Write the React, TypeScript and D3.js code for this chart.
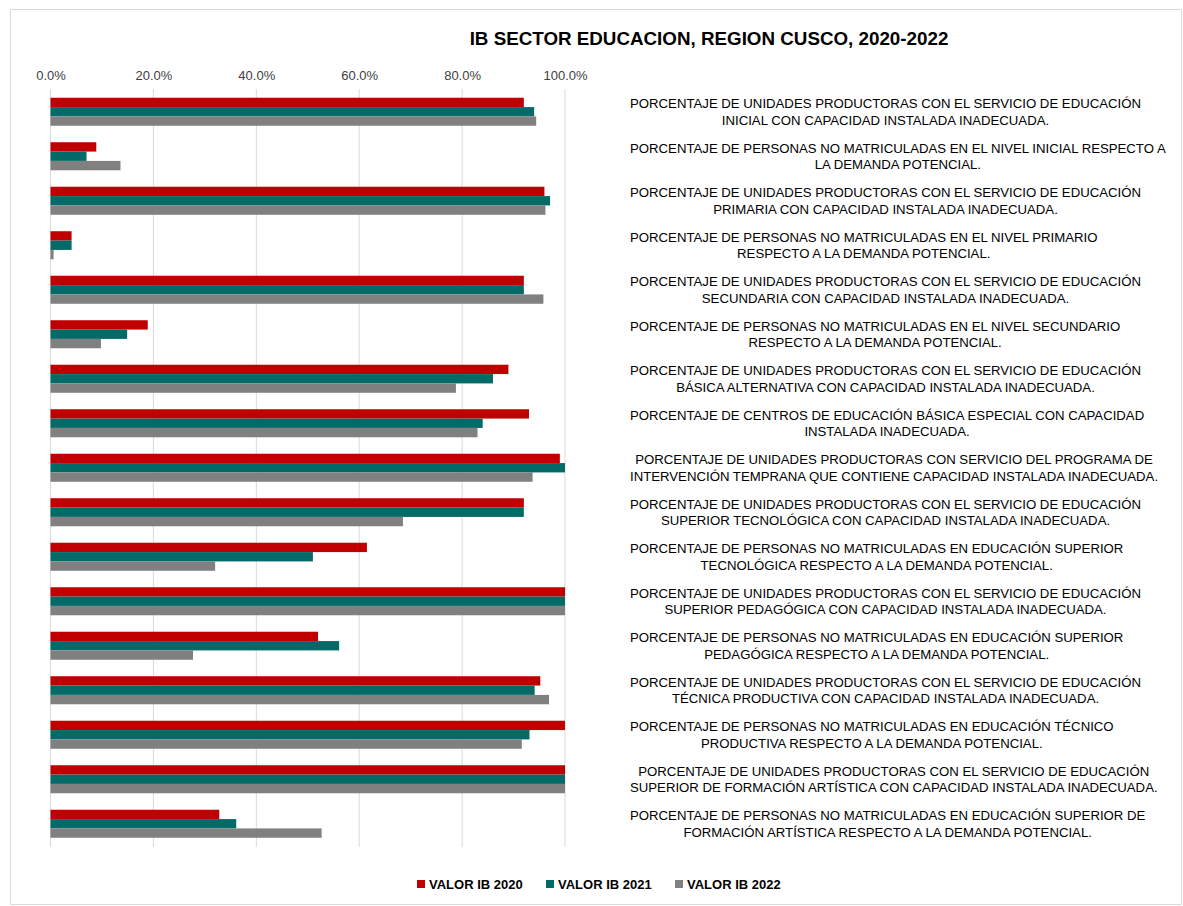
import React from "react";
import * as d3 from "d3";

const categories: string[][] = [
  ["PORCENTAJE DE UNIDADES PRODUCTORAS CON EL SERVICIO DE EDUCACIÓN", "INICIAL CON CAPACIDAD INSTALADA INADECUADA."],
  ["PORCENTAJE DE PERSONAS NO MATRICULADAS EN EL NIVEL INICIAL RESPECTO A", "LA DEMANDA POTENCIAL."],
  ["PORCENTAJE DE UNIDADES PRODUCTORAS CON EL SERVICIO DE EDUCACIÓN", "PRIMARIA CON CAPACIDAD INSTALADA INADECUADA."],
  ["PORCENTAJE DE PERSONAS NO MATRICULADAS EN EL NIVEL PRIMARIO", "RESPECTO A LA DEMANDA POTENCIAL."],
  ["PORCENTAJE DE UNIDADES PRODUCTORAS CON EL SERVICIO DE EDUCACIÓN", "SECUNDARIA CON CAPACIDAD INSTALADA INADECUADA."],
  ["PORCENTAJE DE PERSONAS NO MATRICULADAS EN EL NIVEL SECUNDARIO", "RESPECTO A LA DEMANDA POTENCIAL."],
  ["PORCENTAJE DE UNIDADES PRODUCTORAS CON EL SERVICIO DE EDUCACIÓN", "BÁSICA ALTERNATIVA CON CAPACIDAD INSTALADA INADECUADA."],
  ["PORCENTAJE DE CENTROS DE EDUCACIÓN BÁSICA ESPECIAL CON CAPACIDAD", "INSTALADA INADECUADA."],
  ["PORCENTAJE DE UNIDADES PRODUCTORAS CON SERVICIO DEL PROGRAMA DE", "INTERVENCIÓN TEMPRANA QUE CONTIENE CAPACIDAD INSTALADA INADECUADA."],
  ["PORCENTAJE DE UNIDADES PRODUCTORAS CON EL SERVICIO DE EDUCACIÓN", "SUPERIOR TECNOLÓGICA CON CAPACIDAD INSTALADA INADECUADA."],
  ["PORCENTAJE DE PERSONAS NO MATRICULADAS EN EDUCACIÓN SUPERIOR", "TECNOLÓGICA RESPECTO A LA DEMANDA POTENCIAL."],
  ["PORCENTAJE DE UNIDADES PRODUCTORAS CON EL SERVICIO DE EDUCACIÓN", "SUPERIOR PEDAGÓGICA CON CAPACIDAD INSTALADA INADECUADA."],
  ["PORCENTAJE DE PERSONAS NO MATRICULADAS EN EDUCACIÓN SUPERIOR", "PEDAGÓGICA RESPECTO A LA DEMANDA POTENCIAL."],
  ["PORCENTAJE DE UNIDADES PRODUCTORAS CON EL SERVICIO DE EDUCACIÓN", "TÉCNICA PRODUCTIVA CON CAPACIDAD INSTALADA INADECUADA."],
  ["PORCENTAJE DE PERSONAS NO MATRICULADAS EN EDUCACIÓN TÉCNICO", "PRODUCTIVA RESPECTO A LA DEMANDA POTENCIAL."],
  ["PORCENTAJE DE UNIDADES PRODUCTORAS CON EL SERVICIO DE EDUCACIÓN", "SUPERIOR DE FORMACIÓN ARTÍSTICA CON CAPACIDAD INSTALADA INADECUADA."],
  ["PORCENTAJE DE PERSONAS NO MATRICULADAS EN EDUCACIÓN SUPERIOR DE", "FORMACIÓN ARTÍSTICA RESPECTO A LA DEMANDA POTENCIAL."],
];

const valor2020 = [0.92, 0.089, 0.96, 0.041, 0.92, 0.189, 0.89, 0.93, 0.99, 0.92, 0.615, 1.0, 0.52, 0.952, 1.0, 1.0, 0.328];
const valor2021 = [0.94, 0.07, 0.971, 0.041, 0.92, 0.149, 0.86, 0.84, 1.0, 0.92, 0.51, 1.0, 0.561, 0.941, 0.931, 1.0, 0.361];
const valor2022 = [0.944, 0.136, 0.962, 0.006, 0.958, 0.098, 0.788, 0.83, 0.937, 0.685, 0.32, 1.0, 0.277, 0.969, 0.916, 1.0, 0.527];

const seriesNames = ["VALOR IB 2020", "VALOR IB 2021", "VALOR IB 2022"];
const seriesColors = ["#C00000", "#036A68", "#808080"];
const xTicks = [0, 0.2, 0.4, 0.6, 0.8, 1.0];

const W = 1183;
const H = 906;
const FONT = "'Liberation Sans', Arial, sans-serif";

export default function App() {
  const ref = React.useRef<SVGSVGElement>(null);

  React.useEffect(() => {
    const svg = d3.select(ref.current);
    svg.selectAll("*").remove();

    const series = [valor2020, valor2021, valor2022];
    const x = d3.scaleLinear().domain([0, 1]).range([50.5, 565]);
    const y = d3
      .scaleBand<number>()
      .domain(d3.range(categories.length))
      .range([89.5, 846])
      .paddingInner(0.37)
      .paddingOuter(0.185);
    const ySub = d3.scaleBand<number>().domain([0, 1, 2]).range([0, y.bandwidth()]);

    svg
      .append("rect")
      .attr("x", 10.5)
      .attr("y", 9.5)
      .attr("width", 1171)
      .attr("height", 895)
      .attr("fill", "#fff")
      .attr("stroke", "#D9D9D9");

    svg
      .append("text")
      .attr("x", 709)
      .attr("y", 38)
      .attr("text-anchor", "middle")
      .attr("dominant-baseline", "central")
      .attr("font-family", FONT)
      .attr("font-weight", "bold")
      .attr("font-size", 18.8)
      .attr("fill", "#000")
      .text("IB SECTOR EDUCACION, REGION CUSCO, 2020-2022");

    // gridlines
    svg
      .append("g")
      .selectAll("line")
      .data(xTicks)
      .join("line")
      .attr("x1", (d) => x(d))
      .attr("x2", (d) => x(d))
      .attr("y1", 89)
      .attr("y2", 847)
      .attr("stroke", "#D9D9D9")
      .attr("stroke-width", 1);

    // top axis
    const axis = svg
      .append("g")
      .attr("transform", "translate(0,80)")
      .call(d3.axisTop(x).tickValues(xTicks).tickFormat(d3.format(".1%")).tickSize(0).tickPadding(0));
    axis.select(".domain").remove();
    axis
      .selectAll("text")
      .attr("font-family", FONT)
      .attr("font-size", 13)
      .attr("fill", "#404040");

    // bars
    const groups = svg
      .append("g")
      .selectAll("g")
      .data(categories.map((_, i) => i))
      .join("g")
      .attr("transform", (i) => `translate(0,${y(i)})`);

    groups
      .selectAll("rect")
      .data((i) => series.map((s, k) => ({ k, v: s[i] })))
      .join("rect")
      .attr("x", x(0))
      .attr("y", (d) => ySub(d.k)!)
      .attr("width", (d) => x(d.v) - x(0))
      .attr("height", ySub.bandwidth())
      .attr("fill", (d) => seriesColors[d.k]);

    // category labels
    const labels = svg
      .append("g")
      .selectAll("text")
      .data(categories)
      .join("text")
      .attr("font-family", FONT)
      .attr("font-size", 13.2)
      .attr("fill", "#000")
      .attr("text-anchor", "start");

    labels.each(function (lines, i) {
      const t = d3.select(this);
      const cy = y(i)! + y.bandwidth() / 2;
      const tspans = t
        .selectAll("tspan")
        .data(lines)
        .join("tspan")
        .attr("x", 630)
        .attr("y", (_, j) => cy + (j - 0.5) * 16.5)
        .attr("dominant-baseline", "central")
        .text((d) => d);
      let maxW = 0;
      tspans.each(function () {
        maxW = Math.max(maxW, (this as SVGTSpanElement).getComputedTextLength());
      });
      tspans.attr("x", 630 + maxW / 2).attr("text-anchor", "middle");
    });

    // legend
    const legendX = [417, 546, 675];
    const legend = svg
      .append("g")
      .selectAll("g")
      .data(seriesNames)
      .join("g")
      .attr("transform", (_, k) => `translate(${legendX[k]},884)`);
    legend
      .append("rect")
      .attr("x", 0)
      .attr("y", -4)
      .attr("width", 8)
      .attr("height", 8)
      .attr("fill", (_, k) => seriesColors[k]);
    legend
      .append("text")
      .attr("x", 12)
      .attr("y", 0)
      .attr("dominant-baseline", "central")
      .attr("font-family", FONT)
      .attr("font-weight", "bold")
      .attr("font-size", 13)
      .attr("fill", "#000")
      .text((d) => d);
  }, []);

  return (
    <svg
      ref={ref}
      width={W}
      height={H}
      style={{ position: "absolute", left: 0, top: 0, display: "block" }}
    />
  );
}
